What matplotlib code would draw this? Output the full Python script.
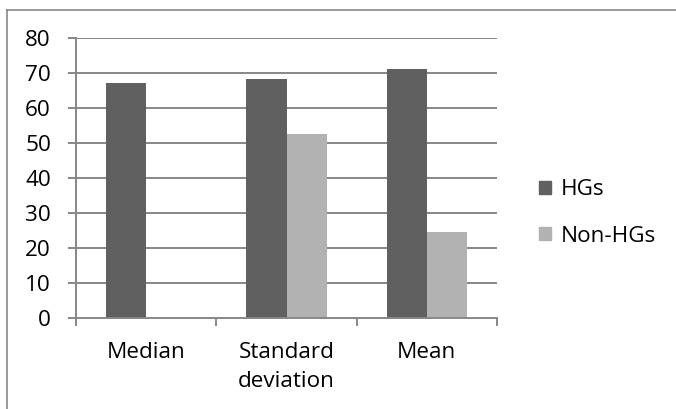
import matplotlib
matplotlib.use("Agg")
import matplotlib.pyplot as plt
from matplotlib.patches import Rectangle
from matplotlib.lines import Line2D
import numpy as np

categories = ["Median", "Standard\ndeviation", "Mean"]
series_names = ["HGs", "Non-HGs"]
hgs = [67.2, 68.4, 71.2]
non_hgs = [0, 52.7, 24.6]
yticks = [0, 10, 20, 30, 40, 50, 60, 70, 80]

dark = "#606060"
light = "#b2b2b2"
grid = "#878787"

plt.rcParams["font.family"] = ["Open Sans", "DejaVu Sans"]
fs = 16.2

fig = plt.figure(figsize=(6.76, 4.09), dpi=100)
ax = fig.add_axes([76 / 676, 1 - 318.3 / 409, 421 / 676, 280 / 409])

x = np.arange(len(categories))
w = 40 / 140
ax.bar(x - w / 2, hgs, width=w, color=dark, zorder=3, label=series_names[0])
ax.bar(x + w / 2, non_hgs, width=w, color=light, zorder=3, label=series_names[1])

ax.set_xlim(-0.5, 2.5)
ax.set_ylim(0, 80)
ax.set_yticks(yticks)
ax.set_yticklabels([str(v) for v in yticks], fontsize=fs, color="black")
for v in yticks[1:]:
    ax.axhline(v, color=grid, lw=1.4, zorder=1)

ax.tick_params(axis="y", direction="out", length=6, width=1.4, color=grid, pad=12)
ax.set_xticks([-0.5, 0.5, 1.5, 2.5])
ax.set_xticklabels([])
ax.tick_params(axis="x", which="major", direction="out", length=6, width=1.4, color=grid)
ax.set_xticks(x, minor=True)
ax.set_xticklabels(categories, minor=True, fontsize=fs, linespacing=1.52)
ax.tick_params(axis="x", which="minor", length=0, pad=17)

for s in ["top", "right"]:
    ax.spines[s].set_visible(False)
for s in ["left", "bottom"]:
    ax.spines[s].set_color(grid)
    ax.spines[s].set_linewidth(1.4)
    ax.spines[s].set_zorder(4)

handles = [Rectangle((0, 0), 1, 1, color=dark), Rectangle((0, 0), 1, 1, color=light)]
fig.legend(handles, series_names, loc="center left", bbox_to_anchor=(539 / 676, 1 - 213 / 409),
           frameon=False, fontsize=fs, handlelength=0.55, handleheight=0.55,
           handletextpad=0.42, labelspacing=1.12, borderpad=0, borderaxespad=0)

# outer chart border (left and top)
fig.add_artist(Line2D([6.7 / 676, 6.7 / 676], [0, 1 - 9.7 / 409], transform=fig.transFigure,
                      color=grid, lw=1.2))
fig.add_artist(Line2D([6.7 / 676, 1], [1 - 9.7 / 409, 1 - 9.7 / 409], transform=fig.transFigure,
                      color=grid, lw=1.2))

fig.savefig("out.png", dpi=100)
